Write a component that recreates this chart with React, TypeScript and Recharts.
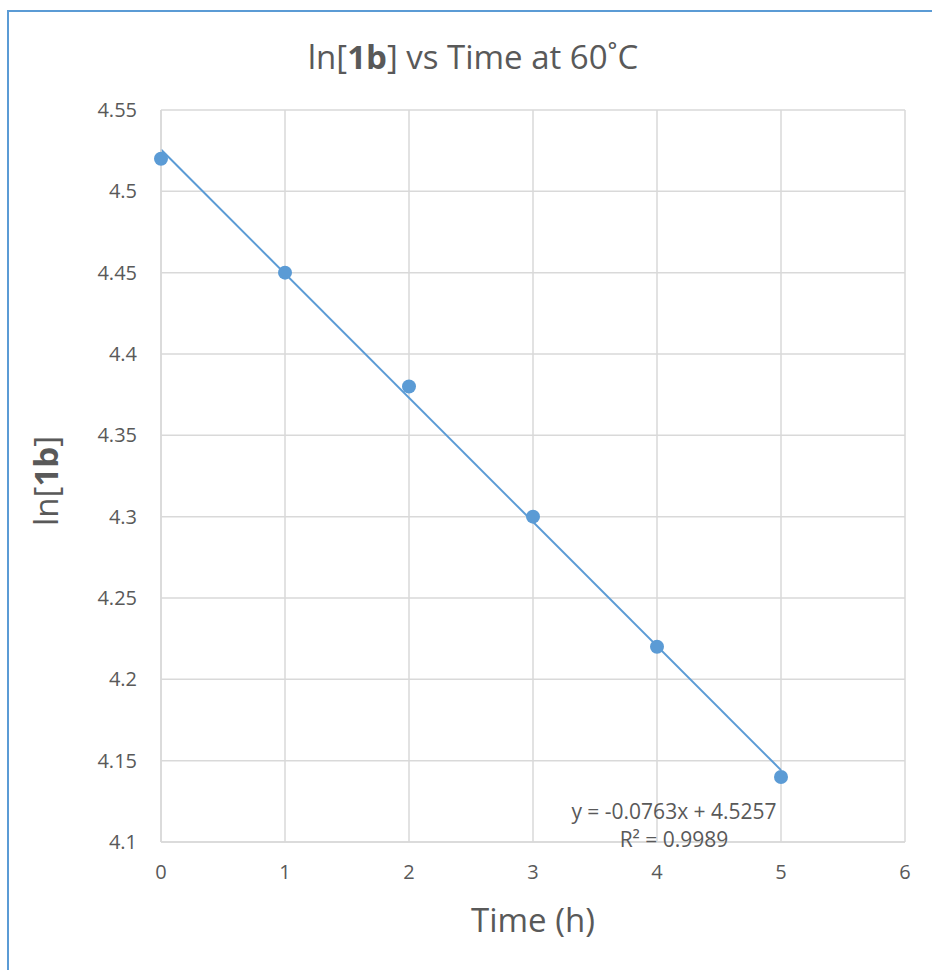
import React from "react";
import { ComposedChart, Scatter, Line, XAxis, YAxis, CartesianGrid, Label } from "recharts";

const times = [0, 1, 2, 3, 4, 5];
const lnValues = [4.52, 4.45, 4.38, 4.3, 4.22, 4.14];
const xTicks = [0, 1, 2, 3, 4, 5, 6];
const yTicks = [4.1, 4.15, 4.2, 4.25, 4.3, 4.35, 4.4, 4.45, 4.5, 4.55];
// trendline ends
const trendX = [0, 5];
const trendY = [4.5257, 4.1442];

const points = times.map((t, i) => ({ x: t, y: lnValues[i] }));
const trend = trendX.map((t, i) => ({ x: t, y: trendY[i] }));

const FONT = "'Open Sans', 'Noto Sans', sans-serif";
const BLUE = "#5b9bd5";
const TEXT = "#595959";
const GRID = "#d9d9d9";

function YTitle(props: any) {
  const { viewBox } = props;
  const cx = 45;
  const cy = viewBox.y + viewBox.height / 2 + 5;
  return (
    <text
      x={cx}
      y={cy}
      transform={`rotate(-90 ${cx} ${cy})`}
      textAnchor="middle"
      dominantBaseline="central"
      fill={TEXT}
      fontSize={33}
      fontFamily={FONT}
    >
      ln[<tspan fontWeight="bold">1b</tspan>]
    </text>
  );
}

export default function App() {
  return (
    <div style={{ position: "absolute", left: 0, top: 0, width: 932, height: 970, background: "#fff", fontFamily: FONT }}>
      <div
        style={{
          position: "absolute",
          left: 7,
          top: 10,
          width: 940,
          height: 970,
          borderLeft: `2px solid ${BLUE}`,
          borderTop: `2px solid ${BLUE}`,
        }}
      />
      <div
        style={{
          position: "absolute",
          left: 0,
          top: 35,
          width: 946,
          textAlign: "center",
          fontSize: 33,
          color: TEXT,
          lineHeight: "44px",
        }}
      >
        ln[<b>1b</b>] vs Time at 60˚C
      </div>
      <ComposedChart
        width={932}
        height={970}
        margin={{ top: 110, right: 27, left: 101, bottom: 88 }}
        style={{ position: "absolute", left: 0, top: 0 }}
      >
        <CartesianGrid stroke={GRID} strokeWidth={1.5} />
        <XAxis
          type="number"
          dataKey="x"
          domain={[0, 6]}
          ticks={xTicks}
          height={40}
          tickLine={false}
          tickSize={0}
          tickMargin={23}
          axisLine={{ stroke: GRID, strokeWidth: 1.5 }}
          tick={{ fill: TEXT, fontSize: 20, fontFamily: FONT }}
        >
          <Label
            value="Time (h)"
            position="insideBottom"
            offset={-50}
            fill={TEXT}
            fontSize={33}
            fontFamily={FONT}
          />
        </XAxis>
        <YAxis
          type="number"
          dataKey="y"
          domain={[4.1, 4.55]}
          ticks={yTicks}
          width={60}
          tickLine={false}
          tickSize={0}
          tickMargin={24}
          axisLine={{ stroke: GRID, strokeWidth: 1.5 }}
          tick={{ fill: TEXT, fontSize: 20, fontFamily: FONT }}
        >
          <Label content={<YTitle />} />
        </YAxis>
        <Line
          data={trend}
          dataKey="y"
          type="linear"
          stroke={BLUE}
          strokeWidth={2}
          dot={false}
          activeDot={false}
          isAnimationActive={false}
        />
        <Scatter
          data={points}
          dataKey="y"
          fill={BLUE}
          shape={(p: any) => <circle cx={p.cx} cy={p.cy} r={7} fill={BLUE} />}
          isAnimationActive={false}
        />
      </ComposedChart>
      <div
        style={{
          position: "absolute",
          left: 524,
          top: 797,
          width: 300,
          textAlign: "center",
          fontSize: 21,
          color: TEXT,
          lineHeight: "28px",
        }}
      >
        y = -0.0763x + 4.5257
        <br />
        R² = 0.9989
      </div>
    </div>
  );
}
